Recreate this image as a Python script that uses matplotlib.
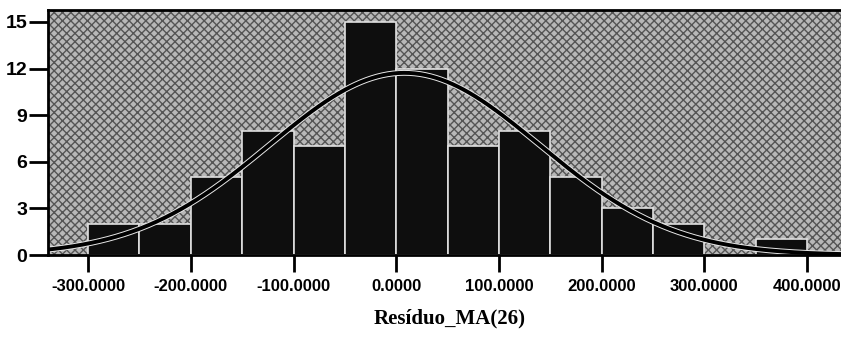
import numpy as np
import matplotlib
matplotlib.use("Agg")
import matplotlib.pyplot as plt
import matplotlib.patheffects as pe
from matplotlib.patches import Rectangle

# Data
bin_edges = [-300, -250, -200, -150, -100, -50, 0, 50, 100, 150, 200, 250, 300, 350, 400]
counts = [2, 2, 5, 8, 7, 15, 12, 7, 8, 5, 3, 2, 0, 1]
curve_mean = 8.0
curve_sd = 131.0
x_ticks = [-300, -200, -100, 0, 100, 200, 300, 400]
x_tick_labels = ["-300.0000", "-200.0000", "-100.0000", "0.0000",
                 "100.0000", "200.0000", "300.0000", "400.0000"]
y_ticks = [0, 3, 6, 9, 12, 15]
x_label = "Resíduo_MA(26)"

W, H = 841, 341
fig = plt.figure(figsize=(W / 100, H / 100), dpi=100)
fig.patch.set_facecolor("white")
left, right, top, bottom = 48, 841, 10, 255
ax = fig.add_axes([left / W, (H - bottom) / H, (right - left) / W, (bottom - top) / H])

# stippled background
ax.set_facecolor("#a8a8a8")
bg = Rectangle((0, 0), 1, 1, transform=ax.transAxes, facecolor="#b8b8b8",
               edgecolor="#555555", hatch="xxxx", linewidth=0, zorder=0)
ax.add_patch(bg)

widths = np.diff(bin_edges)
ax.bar(bin_edges[:-1], counts, width=widths, align="edge", color="#0e0e0e",
       edgecolor="#e0e0e0", linewidth=1.2, zorder=2)

n = sum(counts)
bw = bin_edges[1] - bin_edges[0]
xs = np.linspace(-345, 440, 600)
ys = n * bw / (curve_sd * np.sqrt(2 * np.pi)) * np.exp(-0.5 * ((xs - curve_mean) / curve_sd) ** 2)
ax.plot(xs, ys, color="black", linewidth=2.8, zorder=3,
        path_effects=[pe.Stroke(linewidth=4.2, foreground="#e8e8e8"), pe.Normal()])

ax.set_xlim(-339, 433)
ax.set_ylim(0, 15.77)

ax.set_xticks(x_ticks)
ax.set_xticklabels(x_tick_labels, fontfamily="Liberation Sans", fontweight="bold", fontsize=12)
ax.set_yticks(y_ticks)
ax.set_yticklabels([str(v) for v in y_ticks], fontfamily="Liberation Sans",
                   fontweight="bold", fontsize=14)
ax.tick_params(axis="x", direction="out", length=12, width=2, pad=5)
ax.tick_params(axis="y", direction="out", length=14, width=2, pad=1)

for s in ["left", "top", "bottom"]:
    ax.spines[s].set_linewidth(2)
    ax.spines[s].set_color("black")
    ax.spines[s].set_zorder(5)
ax.spines["right"].set_visible(False)

fig.text(0.535, 1 - 318 / H, x_label, ha="center", va="center",
         fontfamily="Liberation Serif", fontweight="bold", fontsize=15)

fig.savefig("out.png", dpi=100)
